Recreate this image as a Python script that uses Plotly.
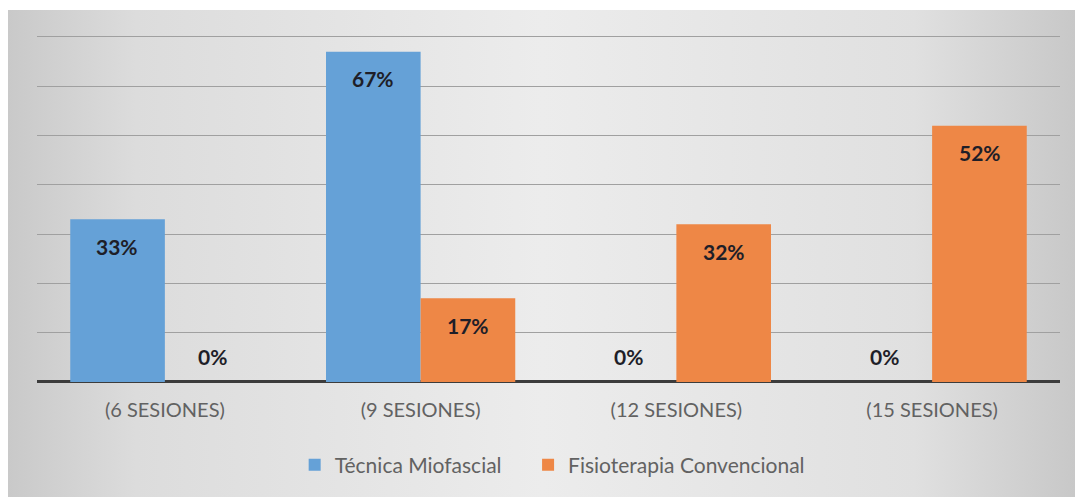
import plotly.graph_objects as go

categories = ["(6 SESIONES)", "(9 SESIONES)", "(12 SESIONES)", "(15 SESIONES)"]
tecnica = [0.33, 0.67, 0.0, 0.0]
fisio = [0.0, 0.17, 0.32, 0.52]
series_names = ["Técnica Miofascial", "Fisioterapia Convencional"]
y_ticks = [0, 0.1, 0.2, 0.3, 0.4, 0.5, 0.6, 0.7]

W, H = 1075, 497
ml, mt = 8, 10
pw, ph = W - ml, H - mt

def fx(px):
    return (px - ml) / pw

def fy(py):
    return (H - py) / ph

BLUE = "#65a1d7"
ORANGE = "#ee8746"
FONT = "Lato"

fig = go.Figure()

# background gradient (full chart area)
fig.add_trace(go.Scatter(
    x=[0, 1, 1, 0, 0], y=[0, 0, 1, 1, 0], xaxis="x", yaxis="y",
    mode="lines", line=dict(width=0), fill="toself",
    fillgradient=dict(type="horizontal",
                      colorscale=[[0, "#c9c9c9"], [0.12, "#dcdcdc"], [0.5, "#ececec"],
                                  [0.85, "#e0e0e0"], [1, "#c8c8c8"]]),
    showlegend=False, hoverinfo="skip"))

pads = ["\u00a0\u00a0\u00a0\u00a0", ""]
for name, pad, vals, col in [(series_names[0], pads[0], tecnica, BLUE),
                             (series_names[1], pads[1], fisio, ORANGE)]:
    fig.add_trace(go.Bar(
        x=categories, y=vals, name=name + pad, xaxis="x2", yaxis="y2",
        marker=dict(color=col, line=dict(width=0)),
        hoverinfo="skip"))

# data labels
annotations = []
for off, vals in [(-0.1855, tecnica), (0.1855, fisio)]:
    for i, v in enumerate(vals):
        annotations.append(dict(
            x=i + off, y=v, xref="x2", yref="y2",
            text=f"<b>{round(v*100)}%</b>", showarrow=False,
            yshift=(-27 if v > 0 else 25),
            font=dict(family=FONT, size=21, color="#1e1e28")))

YTOP = 0.715
fig.update_layout(
    width=W, height=H,
    margin=dict(l=ml, r=0, t=mt, b=0),
    paper_bgcolor="white",
    plot_bgcolor="rgba(0,0,0,0)",
    barmode="group", bargap=0.26, bargroupgap=0,
    xaxis=dict(domain=[0, 1], range=[0, 1], visible=False, fixedrange=True),
    yaxis=dict(domain=[0, 1], range=[0, 1], visible=False, fixedrange=True),
    xaxis2=dict(domain=[fx(37), fx(1060)], anchor="y2", type="category",
                showgrid=False, showline=False, ticks="", ticklabelstandoff=14,
                tickfont=dict(family=FONT, size=20, color="#626262")),
    yaxis2=dict(domain=[fy(382), fy(382 - 345 * YTOP / 0.7)], anchor="x2", range=[0, YTOP],
                tickvals=y_ticks, showticklabels=False, showgrid=True,
                gridcolor="#a0a0a0", gridwidth=1, zeroline=True,
                zerolinecolor="#3c3c3c", zerolinewidth=3, showline=False),
    legend=dict(orientation="h", x=0.51, xanchor="center", y=fy(465), yanchor="middle",
                font=dict(family=FONT, size=21, color="#626262"),
                bgcolor="rgba(0,0,0,0)", itemwidth=30, traceorder="normal"),
    annotations=annotations,
    font=dict(family=FONT),
)

fig.write_html("out.html")
